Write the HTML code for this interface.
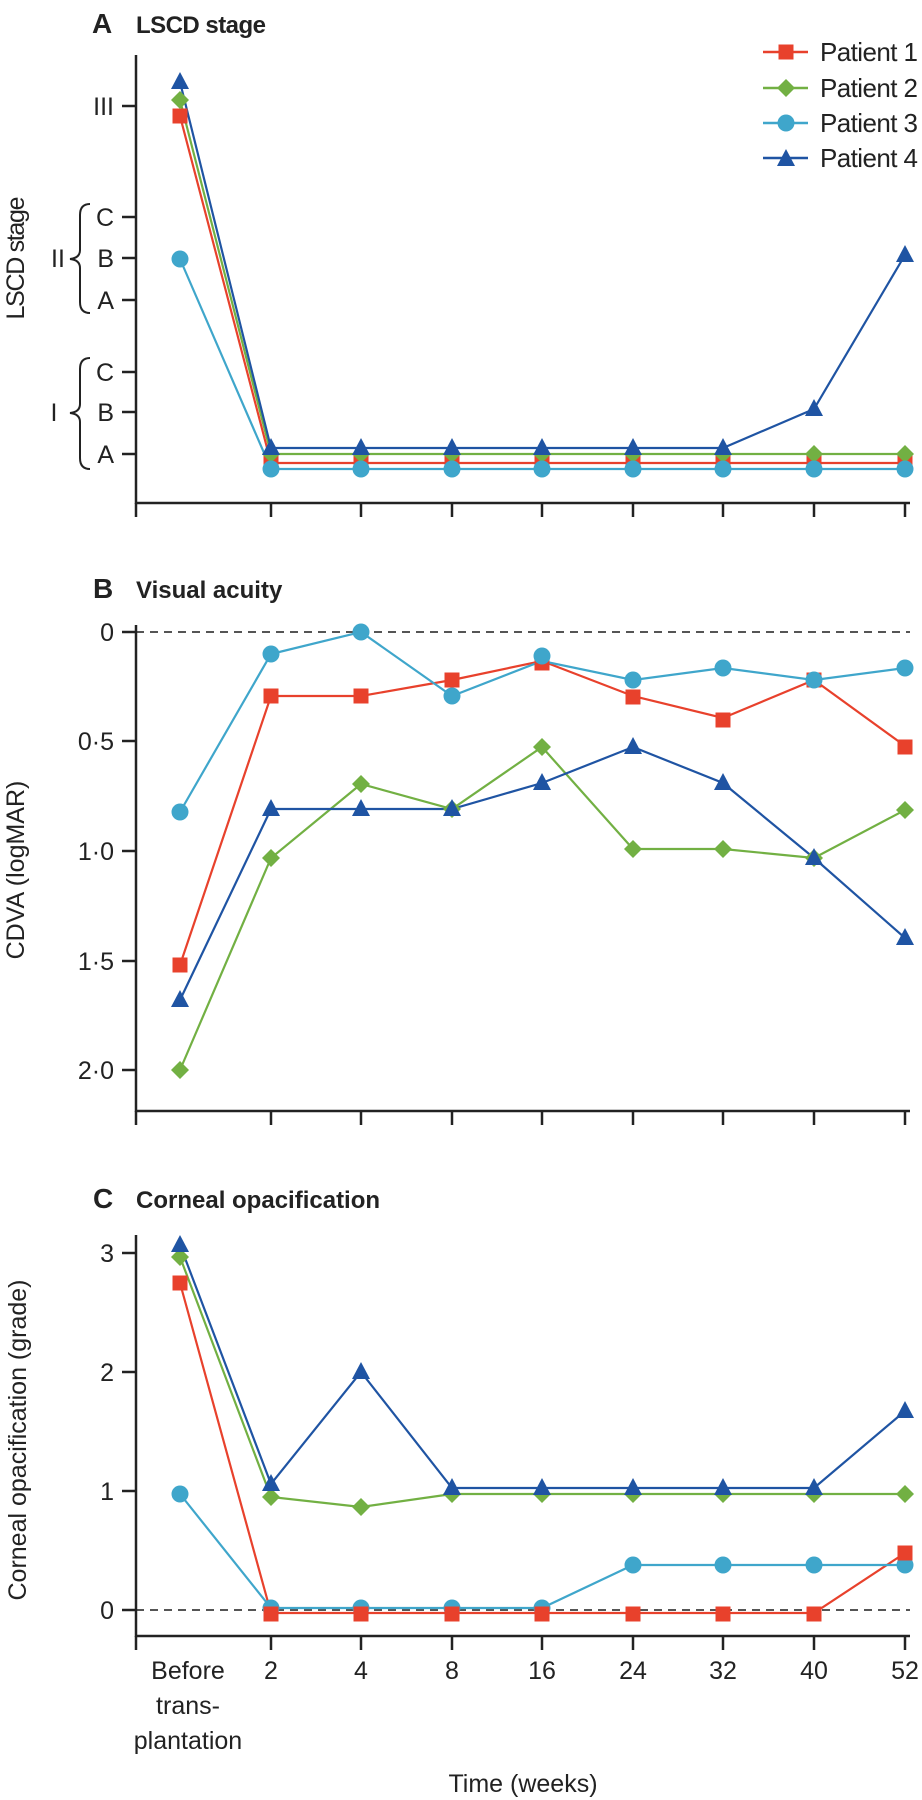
<!DOCTYPE html>
<html><head><meta charset="utf-8"><style>
html,body{margin:0;padding:0;background:#fff;}
svg{display:block;}
text{font-family:"Liberation Sans",sans-serif;fill:#222;}
</style></head><body>
<svg width="922" height="1800" viewBox="0 0 922 1800" xmlns="http://www.w3.org/2000/svg">
<defs>
<g id="sq"><rect x="-7.5" y="-7.5" width="15" height="15" fill="#e8412c"/></g>
<g id="di"><polygon points="0,-9 9,0 0,9 -9,0" fill="#72b043"/></g>
<g id="ci"><circle r="8.5" fill="#3fa6cb"/></g>
<g id="tr"><polygon points="0,-10 9,7 -9,7" fill="#1f54a3"/></g>
</defs>

<!-- Panel A -->
<text x="92" y="33" font-size="28" font-weight="bold">A</text>
<text x="136" y="33" font-size="24" font-weight="bold" textLength="130">LSCD stage</text>
<g stroke="#222" stroke-width="2.5" fill="none">
<line x1="136" y1="55" x2="136" y2="504"/>
<line x1="135" y1="503" x2="910" y2="503"/>
<line x1="122" y1="106" x2="136" y2="106"/>
<line x1="122" y1="217" x2="136" y2="217"/>
<line x1="122" y1="258" x2="136" y2="258"/>
<line x1="122" y1="300" x2="136" y2="300"/>
<line x1="122" y1="372" x2="136" y2="372"/>
<line x1="122" y1="412" x2="136" y2="412"/>
<line x1="122" y1="454" x2="136" y2="454"/>
<line x1="136" y1="503" x2="136" y2="517"/>
<line x1="271" y1="503" x2="271" y2="517"/><line x1="361" y1="503" x2="361" y2="517"/><line x1="452" y1="503" x2="452" y2="517"/><line x1="542" y1="503" x2="542" y2="517"/><line x1="633" y1="503" x2="633" y2="517"/><line x1="723" y1="503" x2="723" y2="517"/><line x1="814" y1="503" x2="814" y2="517"/><line x1="905" y1="503" x2="905" y2="517"/>
</g>
<g font-size="25" text-anchor="end">
<text x="114" y="115">III</text>
<text x="114" y="226">C</text><text x="114" y="267">B</text><text x="114" y="309">A</text>
<text x="114" y="381">C</text><text x="114" y="421">B</text><text x="114" y="463">A</text>
</g>
<text x="58" y="267" font-size="25" text-anchor="middle">II</text>
<text x="54" y="421" font-size="25" text-anchor="middle">I</text>
<g stroke="#222" stroke-width="2" fill="none">
<path d="M90,204 Q80,204 80,215 L80,250 Q80,258 70,259 Q80,260 80,268 L80,302 Q80,313 90,313"/>
<path d="M90,358 Q80,358 80,369 L80,404 Q80,412 70,413 Q80,414 80,422 L80,458 Q80,469 90,469"/>
</g>
<text transform="translate(24,258) rotate(-90)" font-size="25" text-anchor="middle" textLength="123">LSCD stage</text>

<!-- legend -->
<g stroke-width="2.5">
<line x1="763" y1="52" x2="808" y2="52" stroke="#e8412c"/>
<line x1="763" y1="88" x2="808" y2="88" stroke="#72b043"/>
<line x1="763" y1="123" x2="808" y2="123" stroke="#3fa6cb"/>
<line x1="763" y1="158" x2="808" y2="158" stroke="#1f54a3"/>
</g>
<use href="#sq" x="786" y="52"/><use href="#di" x="786" y="88"/><use href="#ci" x="786" y="123"/><use href="#tr" x="786" y="159"/>
<g font-size="26"><text x="820" y="61" textLength="98">Patient 1</text><text x="820" y="97" textLength="98">Patient 2</text><text x="820" y="132" textLength="98">Patient 3</text><text x="820" y="167" textLength="98">Patient 4</text></g>

<g fill="none" stroke-width="2.2">
<polyline stroke="#e8412c" points="180,116 271,463 361,463 452,463 542,463 633,463 723,463 814,463 905,463"/>
<polyline stroke="#72b043" points="180,100 271,454 361,454 452,454 542,454 633,454 723,454 814,454 905,454"/>
<polyline stroke="#3fa6cb" points="180,259 271,469 361,469 452,469 542,469 633,469 723,469 814,469 905,469"/>
<polyline stroke="#1f54a3" points="180,82 271,448 361,448 452,448 542,448 633,448 723,448 814,409 905,255"/>
</g>
<g>
<use href="#sq" x="180" y="116"/><use href="#sq" x="271" y="463"/><use href="#sq" x="361" y="463"/><use href="#sq" x="452" y="463"/><use href="#sq" x="542" y="463"/><use href="#sq" x="633" y="463"/><use href="#sq" x="723" y="463"/><use href="#sq" x="814" y="463"/><use href="#sq" x="905" y="463"/>
<use href="#di" x="180" y="100"/><use href="#di" x="271" y="454"/><use href="#di" x="361" y="454"/><use href="#di" x="452" y="454"/><use href="#di" x="542" y="454"/><use href="#di" x="633" y="454"/><use href="#di" x="723" y="454"/><use href="#di" x="814" y="454"/><use href="#di" x="905" y="454"/>
<use href="#ci" x="180" y="259"/><use href="#ci" x="271" y="469"/><use href="#ci" x="361" y="469"/><use href="#ci" x="452" y="469"/><use href="#ci" x="542" y="469"/><use href="#ci" x="633" y="469"/><use href="#ci" x="723" y="469"/><use href="#ci" x="814" y="469"/><use href="#ci" x="905" y="469"/>
<use href="#tr" x="180" y="82"/><use href="#tr" x="271" y="448"/><use href="#tr" x="361" y="448"/><use href="#tr" x="452" y="448"/><use href="#tr" x="542" y="448"/><use href="#tr" x="633" y="448"/><use href="#tr" x="723" y="448"/><use href="#tr" x="814" y="409"/><use href="#tr" x="905" y="255"/>
</g>

<!-- Panel B -->
<text x="93" y="598" font-size="28" font-weight="bold">B</text>
<text x="136" y="598" font-size="24" font-weight="bold">Visual acuity</text>
<line x1="136" y1="632" x2="910" y2="632" stroke="#555" stroke-width="2" stroke-dasharray="8,6"/>
<g stroke="#222" stroke-width="2.5" fill="none">
<line x1="136" y1="625" x2="136" y2="1112"/>
<line x1="135" y1="1111" x2="910" y2="1111"/>
<line x1="122" y1="632" x2="136" y2="632"/><line x1="122" y1="741" x2="136" y2="741"/><line x1="122" y1="851" x2="136" y2="851"/><line x1="122" y1="961" x2="136" y2="961"/><line x1="122" y1="1070" x2="136" y2="1070"/>
<line x1="136" y1="1111" x2="136" y2="1125"/>
<line x1="271" y1="1111" x2="271" y2="1125"/><line x1="361" y1="1111" x2="361" y2="1125"/><line x1="452" y1="1111" x2="452" y2="1125"/><line x1="542" y1="1111" x2="542" y2="1125"/><line x1="633" y1="1111" x2="633" y2="1125"/><line x1="723" y1="1111" x2="723" y2="1125"/><line x1="814" y1="1111" x2="814" y2="1125"/><line x1="905" y1="1111" x2="905" y2="1125"/>
</g>
<g font-size="25" text-anchor="end">
<text x="114" y="641">0</text><text x="114" y="750">0·5</text><text x="114" y="860">1·0</text><text x="114" y="970">1·5</text><text x="114" y="1079">2·0</text>
</g>
<text transform="translate(24,870) rotate(-90)" font-size="25" text-anchor="middle">CDVA (logMAR)</text>
<g fill="none" stroke-width="2.2">
<polyline stroke="#e8412c" points="180,965 271,696 361,696 452,680 542,661 633,696 723,718 814,680 905,746"/>
<polyline stroke="#72b043" points="180,1070 271,858 361,784 452,809 542,747 633,849 723,849 814,858 905,810"/>
<polyline stroke="#3fa6cb" points="180,812 271,654 361,632 452,696 542,661 633,680 723,668 814,680 905,668"/>
<polyline stroke="#1f54a3" points="180,1000 271,809 361,809 452,809 542,783 633,747 723,783 814,858 905,938"/>
</g>
<g>
<use href="#sq" x="180" y="965"/><use href="#sq" x="271" y="696"/><use href="#sq" x="361" y="696"/><use href="#sq" x="452" y="680"/><use href="#sq" x="542" y="663"/><use href="#sq" x="633" y="697"/><use href="#sq" x="723" y="720"/><use href="#sq" x="814" y="680"/><use href="#sq" x="905" y="747"/>
<use href="#di" x="180" y="1070"/><use href="#di" x="271" y="858"/><use href="#di" x="361" y="784"/><use href="#di" x="452" y="809"/><use href="#di" x="542" y="747"/><use href="#di" x="633" y="849"/><use href="#di" x="723" y="849"/><use href="#di" x="814" y="858"/><use href="#di" x="905" y="810"/>
<use href="#ci" x="180" y="812"/><use href="#ci" x="271" y="654"/><use href="#ci" x="361" y="632"/><use href="#ci" x="452" y="696"/><use href="#ci" x="542" y="656"/><use href="#ci" x="633" y="680"/><use href="#ci" x="723" y="668"/><use href="#ci" x="814" y="680"/><use href="#ci" x="905" y="668"/>
<use href="#tr" x="180" y="1000"/><use href="#tr" x="271" y="809"/><use href="#tr" x="361" y="809"/><use href="#tr" x="452" y="809"/><use href="#tr" x="542" y="783"/><use href="#tr" x="633" y="747"/><use href="#tr" x="723" y="783"/><use href="#tr" x="814" y="858"/><use href="#tr" x="905" y="938"/>
</g>

<!-- Panel C -->
<text x="93" y="1208" font-size="28" font-weight="bold">C</text>
<text x="136" y="1208" font-size="24" font-weight="bold">Corneal opacification</text>
<line x1="136" y1="1610" x2="910" y2="1610" stroke="#555" stroke-width="2" stroke-dasharray="8,6"/>
<g stroke="#222" stroke-width="2.5" fill="none">
<line x1="136" y1="1235" x2="136" y2="1637"/>
<line x1="135" y1="1636" x2="910" y2="1636"/>
<line x1="122" y1="1253" x2="136" y2="1253"/><line x1="122" y1="1372" x2="136" y2="1372"/><line x1="122" y1="1491" x2="136" y2="1491"/><line x1="122" y1="1610" x2="136" y2="1610"/>
<line x1="136" y1="1636" x2="136" y2="1650"/>
<line x1="271" y1="1636" x2="271" y2="1650"/><line x1="361" y1="1636" x2="361" y2="1650"/><line x1="452" y1="1636" x2="452" y2="1650"/><line x1="542" y1="1636" x2="542" y2="1650"/><line x1="633" y1="1636" x2="633" y2="1650"/><line x1="723" y1="1636" x2="723" y2="1650"/><line x1="814" y1="1636" x2="814" y2="1650"/><line x1="905" y1="1636" x2="905" y2="1650"/>
</g>
<g font-size="25" text-anchor="end">
<text x="114" y="1262">3</text><text x="114" y="1381">2</text><text x="114" y="1500">1</text><text x="114" y="1619">0</text>
</g>
<text transform="translate(26,1440) rotate(-90)" font-size="25" text-anchor="middle">Corneal opacification (grade)</text>
<g fill="none" stroke-width="2.2">
<polyline stroke="#e8412c" points="180,1283 271,1613 361,1613 452,1613 542,1613 633,1613 723,1613 814,1613 905,1553"/>
<polyline stroke="#72b043" points="180,1257 271,1497 361,1507 452,1494 542,1494 633,1494 723,1494 814,1494 905,1494"/>
<polyline stroke="#3fa6cb" points="180,1494 271,1608 361,1608 452,1608 542,1608 633,1565 723,1565 814,1565 905,1565"/>
<polyline stroke="#1f54a3" points="180,1245 271,1484 361,1372 452,1488 542,1488 633,1488 723,1488 814,1488 905,1411"/>
</g>
<g>
<use href="#ci" x="180" y="1494"/><use href="#ci" x="271" y="1608"/><use href="#ci" x="361" y="1608"/><use href="#ci" x="452" y="1608"/><use href="#ci" x="542" y="1608"/><use href="#ci" x="633" y="1565"/><use href="#ci" x="723" y="1565"/><use href="#ci" x="814" y="1565"/><use href="#ci" x="905" y="1565"/>
<use href="#sq" x="180" y="1283"/><use href="#sq" x="271" y="1614"/><use href="#sq" x="361" y="1614"/><use href="#sq" x="452" y="1614"/><use href="#sq" x="542" y="1614"/><use href="#sq" x="633" y="1614"/><use href="#sq" x="723" y="1614"/><use href="#sq" x="814" y="1614"/><use href="#sq" x="905" y="1553"/>
<use href="#di" x="180" y="1257"/><use href="#di" x="271" y="1497"/><use href="#di" x="361" y="1507"/><use href="#di" x="452" y="1494"/><use href="#di" x="542" y="1494"/><use href="#di" x="633" y="1494"/><use href="#di" x="723" y="1494"/><use href="#di" x="814" y="1494"/><use href="#di" x="905" y="1494"/>
<use href="#tr" x="180" y="1245"/><use href="#tr" x="271" y="1484"/><use href="#tr" x="361" y="1372"/><use href="#tr" x="452" y="1488"/><use href="#tr" x="542" y="1488"/><use href="#tr" x="633" y="1488"/><use href="#tr" x="723" y="1488"/><use href="#tr" x="814" y="1488"/><use href="#tr" x="905" y="1411"/>
</g>

<g font-size="25" text-anchor="middle">
<text x="188" y="1679">Before</text><text x="188" y="1714">trans-</text><text x="188" y="1749">plantation</text>
<text x="271" y="1679">2</text><text x="361" y="1679">4</text><text x="452" y="1679">8</text><text x="542" y="1679">16</text><text x="633" y="1679">24</text><text x="723" y="1679">32</text><text x="814" y="1679">40</text><text x="905" y="1679">52</text>
<text x="523" y="1792">Time (weeks)</text>
</g>
</svg>
</body></html>
